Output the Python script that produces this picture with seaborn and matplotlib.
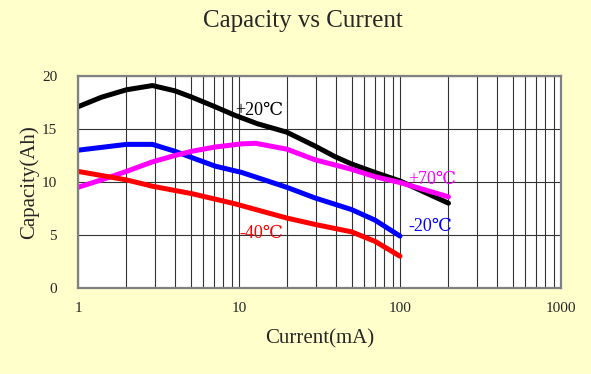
import numpy as np
import pandas as pd
import matplotlib
matplotlib.use("Agg")
import matplotlib.pyplot as plt
import seaborn as sns
from matplotlib.ticker import LogLocator, FixedLocator, NullFormatter

# values
cur_p20 = [1, 1.4, 2, 2.9, 4, 5.1, 7.1, 9.4, 13, 19.8, 29.6, 39.4, 50, 70, 100, 200]
cap_p20 = [17.1, 18.0, 18.7, 19.1, 18.6, 18.0, 17.1, 16.3, 15.5, 14.7, 13.4, 12.4, 11.7, 10.9, 10.1, 8.0]

cur_m20 = [1, 2, 2.9, 4, 5.1, 7.1, 10.4, 19.8, 29.6, 50, 70, 100]
cap_m20 = [13.0, 13.55, 13.55, 12.9, 12.3, 11.5, 10.9, 9.5, 8.5, 7.4, 6.4, 4.9]

cur_p70 = [1, 1.4, 2, 2.9, 4, 5.1, 7.1, 10.4, 12.7, 19.8, 29.6, 50, 70, 100, 200]
cap_p70 = [9.5, 10.2, 11.0, 11.9, 12.5, 12.9, 13.3, 13.6, 13.65, 13.1, 12.1, 11.2, 10.5, 9.95, 8.6]

cur_m40 = [1, 2, 2.9, 5.1, 9.4, 19.8, 29.6, 50, 70, 100]
cap_m40 = [11.0, 10.2, 9.6, 8.9, 7.95, 6.6, 6.0, 5.3, 4.4, 3.0]

series = ["+20℃", "-20℃", "+70℃", "-40℃"]
colors = ["#000000", "#0000ff", "#ff00ff", "#ff0000"]
label_pos = {"+20℃": (9.45, 16.7), "-20℃": (112, 5.8), "+70℃": (112, 10.2), "-40℃": (10.1, 5.1)}

frames = []
for name, x, y in zip(series, [cur_p20, cur_m20, cur_p70, cur_m40],
                      [cap_p20, cap_m20, cap_p70, cap_m40]):
    frames.append(pd.DataFrame({"Current": x, "Capacity": y, "Temp": name}))
df = pd.concat(frames, ignore_index=True)

sns.set_style("white")
font = ["Liberation Serif", "DejaVu Serif"]
plt.rcParams["font.family"] = font

bg = "#ffffcc"
fig = plt.figure(figsize=(5.91, 3.74), dpi=100, facecolor=bg)
ax = fig.add_axes([78 / 591, 1 - 288 / 374, (561 - 78) / 591, (288 - 76) / 374])
ax.set_facecolor("white")

sns.lineplot(data=df, x="Current", y="Capacity", hue="Temp", palette=dict(zip(series, colors)),
             linewidth=3.6, legend=False, ax=ax, sort=False)

ax.set_xscale("log")
ax.set_xlim(1, 1000)
ax.set_ylim(0, 20)
ax.xaxis.set_major_locator(FixedLocator([1, 10, 100, 1000]))
ax.set_xticklabels(["1", "10", "100", "1000"])
ax.xaxis.set_minor_locator(LogLocator(base=10, subs=np.arange(2, 10)))
ax.xaxis.set_minor_formatter(NullFormatter())
ax.set_yticks([0, 5, 10, 15, 20])
ax.grid(True, which="both", axis="x", color="#333333", linewidth=0.8)
ax.grid(True, which="major", axis="y", color="#333333", linewidth=0.8)
ax.set_axisbelow(True)
ax.tick_params(axis="both", which="both", length=0, labelsize=11)
ax.tick_params(axis="x", pad=10)
ax.tick_params(axis="y", pad=15)

for s in ax.spines.values():
    s.set_color("#808080")
    s.set_linewidth(1.6)

for name, c in zip(series, colors):
    x, y = label_pos[name]
    ax.text(x, y, name, color=c, fontsize=13, ha="left", va="center", family=font)

ax.set_xlabel("Current(mA)", fontsize=15, labelpad=10)
ax.set_ylabel("Capacity(Ah)", fontsize=15, labelpad=2)
fig.text(303 / 591, 1 - 21 / 374, "Capacity vs Current", fontsize=18, ha="center", va="center")

fig.savefig("out.png", dpi=100, facecolor=bg)
